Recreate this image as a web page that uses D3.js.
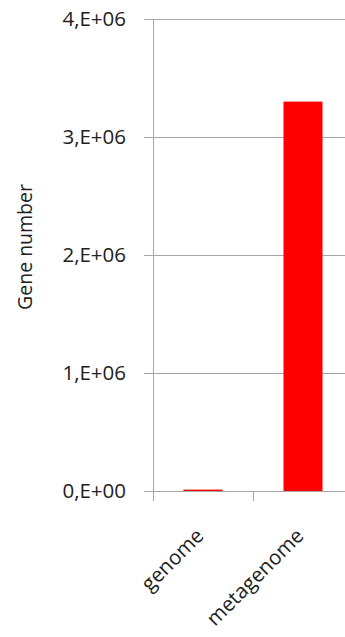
<!DOCTYPE html>
<html>
<head>
<meta charset="utf-8">
<script src="https://cdn.jsdelivr.net/npm/d3@7"></script>
<style>
  html, body { margin: 0; padding: 0; background: #fff; }
  svg text { font-family: "Open Sans", "Noto Sans", sans-serif; fill: #222; }
</style>
</head>
<body>
<svg id="chart" width="345" height="637"></svg>
<script>
// Gene counts per source
const categories = ["genome", "metagenome"];
const geneCounts = [12000, 3300000];
const yTicks = [0, 1e6, 2e6, 3e6, 4e6];
const yTickLabels = ["0,E+00", "1,E+06", "2,E+06", "3,E+06", "4,E+06"];
const yTitle = "Gene number";

const svg = d3.select("#chart");
const margin = { left: 153, top: 19, right: 0, bottom: 145 };
const plotW = 200, plotH = 637 - margin.top - margin.bottom - 1;
const fontSize = 20.5;

const x = d3.scaleBand().domain(categories).range([margin.left, margin.left + plotW]).paddingInner(0.61).paddingOuter(0.305);
const band = d3.scaleBand().domain(categories).range([margin.left, margin.left + plotW]);
const y = d3.scaleLinear().domain([0, 4e6]).range([margin.top + plotH, margin.top]);

const grid = "#a6a6a6";

// horizontal gridlines with short outward ticks
svg.append("g").selectAll("line").data(yTicks).join("line")
  .attr("x1", margin.left - 9).attr("x2", 345)
  .attr("y1", d => Math.round(y(d)) + 0.5).attr("y2", d => Math.round(y(d)) + 0.5)
  .attr("stroke", grid).attr("stroke-width", 1);

// y tick labels
svg.append("g").selectAll("text").data(yTicks).join("text")
  .attr("x", 126).attr("y", d => y(d))
  .attr("dy", "0.36em").attr("text-anchor", "end")
  .attr("font-size", fontSize)
  .text((d, i) => yTickLabels[i]);

// vertical axis line
svg.append("line")
  .attr("x1", margin.left + 0.5).attr("x2", margin.left + 0.5)
  .attr("y1", margin.top).attr("y2", y(0) + 10)
  .attr("stroke", grid);

// category separator ticks
svg.append("g").selectAll("line").data(categories.slice(1)).join("line")
  .attr("x1", d => Math.round(band(d)) + 0.5).attr("x2", d => Math.round(band(d)) + 0.5)
  .attr("y1", y(0)).attr("y2", y(0) + 10)
  .attr("stroke", grid);

// bars
svg.append("g").selectAll("rect").data(categories).join("rect")
  .attr("x", d => x(d)).attr("width", x.bandwidth())
  .attr("y", (d, i) => y(geneCounts[i]))
  .attr("height", (d, i) => y(0) - y(geneCounts[i]))
  .attr("fill", "#ff0000");

// rotated category labels
svg.append("g").selectAll("text").data(categories).join("text")
  .attr("transform", d => `translate(${band(d) + band.bandwidth() / 2 + 2},${y(0) + 46}) rotate(-45)`)
  .attr("text-anchor", "end")
  .attr("font-size", fontSize)
  .text(d => d);

// y axis title
svg.append("text")
  .attr("transform", `translate(32,${y(2e6) - 8}) rotate(-90)`)
  .attr("text-anchor", "middle")
  .attr("font-size", 19.5)
  .text(yTitle);
</script>
</body>
</html>
